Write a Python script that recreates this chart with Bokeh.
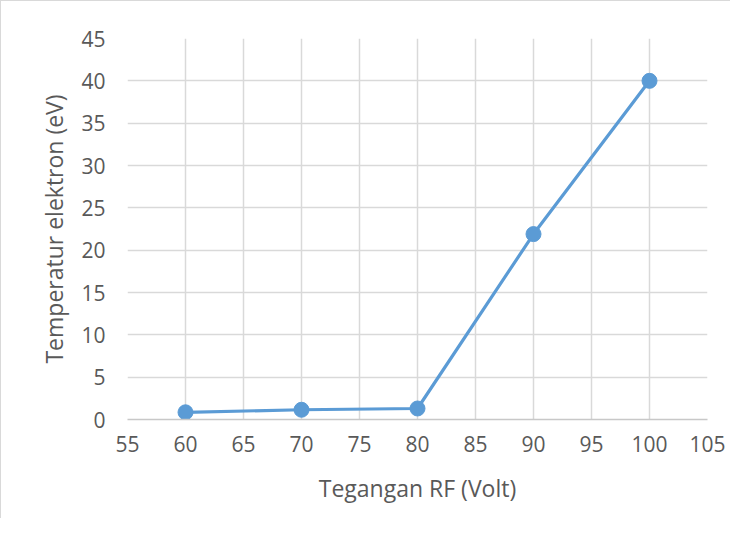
from bokeh.plotting import figure
from bokeh.embed import file_html
from bokeh.resources import INLINE
from bokeh.models import FixedTicker, Range1d

voltage = [60, 70, 80, 90, 100]
temperature = [0.85, 1.15, 1.3, 21.9, 40.0]
x_ticks = [55, 60, 65, 70, 75, 80, 85, 90, 95, 100, 105]
y_ticks = [0, 5, 10, 15, 20, 25, 30, 35, 40, 45]

FONT = "Open Sans"
TXT = "#595959"
GRID = "#d9d9d9"

p = figure(width=729, height=517, output_backend="svg", toolbar_location=None,
           x_range=Range1d(55, 105), y_range=Range1d(0, 45),
           min_border_left=126, min_border_right=23, min_border_top=37, min_border_bottom=99)
p.frame_width = 580
p.frame_height = 381
p.styles = {"border-left": "1px solid #d9d9d9", "border-top": "1px solid #d9d9d9"}

p.outline_line_color = None
p.xaxis.ticker = FixedTicker(ticks=x_ticks)
p.yaxis.ticker = FixedTicker(ticks=y_ticks)
p.xgrid.ticker = FixedTicker(ticks=x_ticks)
p.ygrid.ticker = FixedTicker(ticks=y_ticks)
for g in (p.xgrid, p.ygrid):
    g.grid_line_color = GRID
    g.grid_line_width = 1.5

for ax in (p.xaxis, p.yaxis):
    ax.major_tick_line_color = None
    ax.minor_tick_line_color = None
    ax.major_label_text_font = FONT
    ax.major_label_text_font_size = "21px"
    ax.major_label_text_color = TXT
    ax.axis_label_text_font = FONT
    ax.axis_label_text_font_size = "23px"
    ax.axis_label_text_font_style = "normal"
    ax.axis_label_text_color = TXT
p.xaxis.axis_line_color = "#c8c8c8"
p.xaxis.axis_line_width = 1.5
p.yaxis.axis_line_color = None
p.xaxis.major_label_standoff = 10
p.yaxis.major_label_standoff = 16
p.xaxis.axis_label_standoff = 17
p.yaxis.axis_label_standoff = 8
p.xaxis.axis_label = "Tegangan RF (Volt)"
p.yaxis.axis_label = "Temperatur elektron (eV)"

p.line(voltage, temperature, line_color="#5b9bd5", line_width=3.2)
p.scatter(voltage, temperature, size=15, fill_color="#5b9bd5", line_color="#5b9bd5")

open("out.html", "w").write(file_html(p, INLINE))
